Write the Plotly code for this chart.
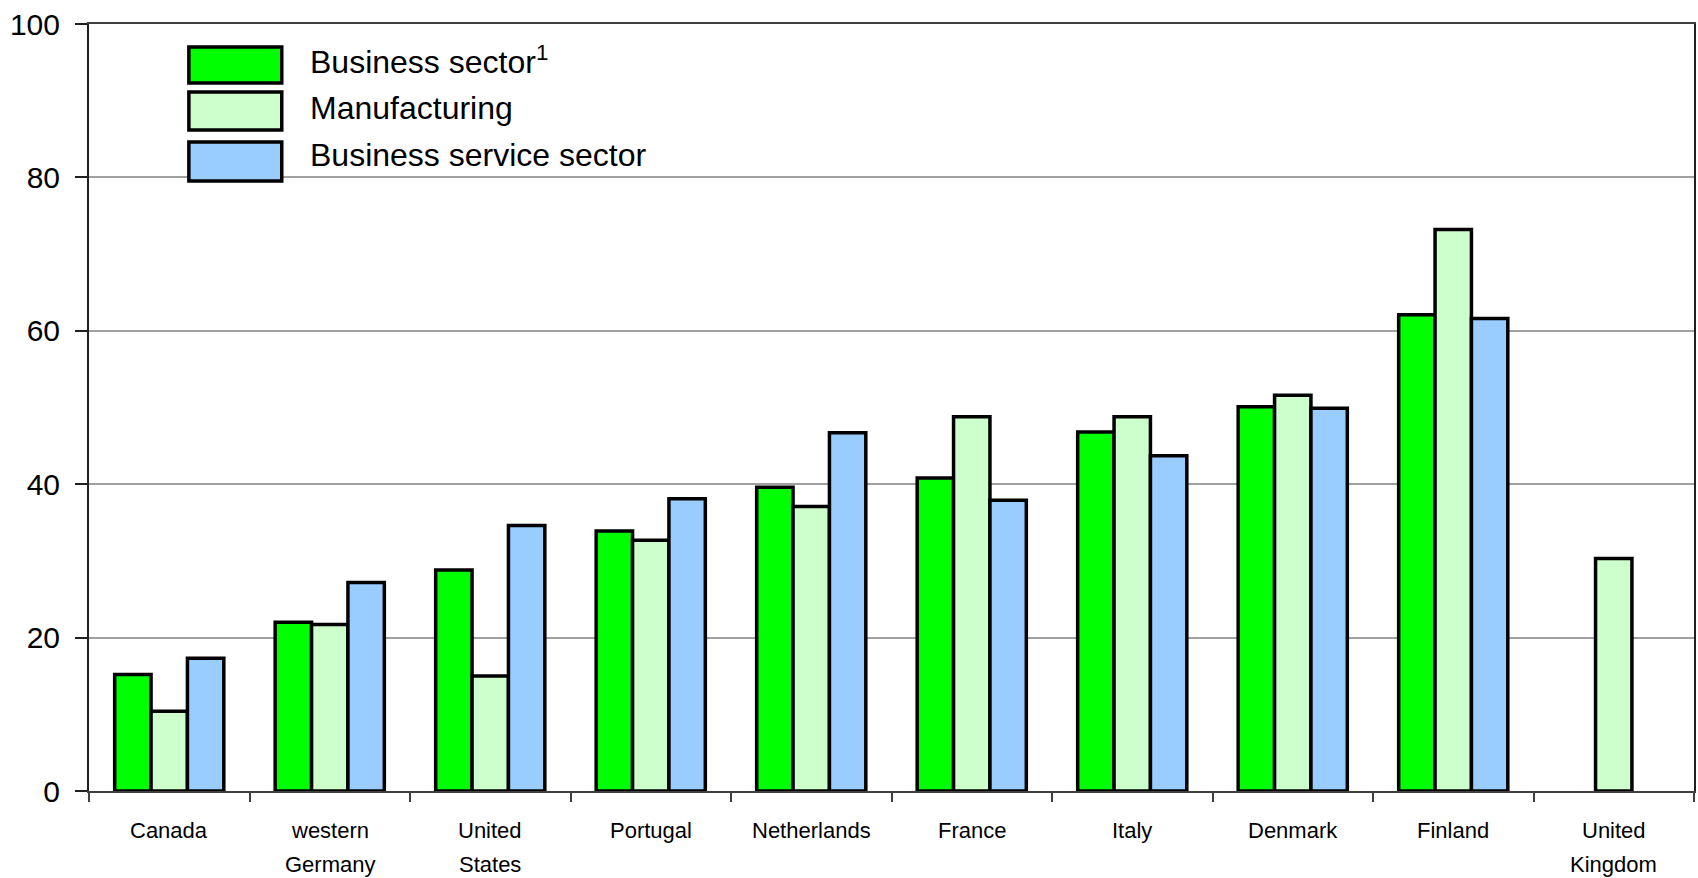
import plotly.graph_objects as go

# Share of firms (%) by country and sector
countries = ["Canada", "western<br>Germany", "United<br>States", "Portugal", "Netherlands",
             "France", "Italy", "Denmark", "Finland", "United<br>Kingdom"]
business_sector = [15.2, 22.0, 28.8, 33.9, 39.6, 40.8, 46.8, 50.1, 62.1, None]
manufacturing = [10.4, 21.7, 15.0, 32.7, 37.1, 48.8, 48.8, 51.6, 73.2, 30.3]
business_services = [17.3, 27.2, 34.6, 38.1, 46.7, 37.9, 43.7, 49.9, 61.6, None]

series_names = ["Business sector<sup>1</sup>", "Manufacturing", "Business service sector"]
series_values = [business_sector, manufacturing, business_services]
series_colors = ["#00ff00", "#ccffcc", "#99ccff"]

y_ticks = [0, 20, 40, 60, 80, 100]

FONT = "Liberation Sans, Arial, sans-serif"
W, H = 1698, 878
L, R, T, B = 89, 2, 24, 87

fig = go.Figure()
for name, vals, col in zip(series_names, series_values, series_colors):
    fig.add_trace(go.Bar(
        x=countries, y=vals, name=name,
        marker=dict(color=col, line=dict(color="#000000", width=3.5)),
        showlegend=False,
    ))

# Pixel -> paper helpers
pw, ph = W - L - R, H - T - B
def px(x):
    return (x - L) / pw
def py(y):
    return (H - B - y) / ph

# Legend drawn as large swatches with labels
swatch_rows = [(47, 83, 60), (92, 130, 108), (142, 181, 155)]
for (y0, y1, yc), name, col in zip(swatch_rows, series_names, series_colors):
    fig.add_shape(type="rect", xref="paper", yref="paper",
                  x0=px(189), x1=px(282), y0=py(y1), y1=py(y0),
                  fillcolor=col, line=dict(color="#000000", width=3.5), layer="above")
    fig.add_annotation(xref="paper", yref="paper", x=px(308), y=py(yc),
                       text=name, showarrow=False, xanchor="left", yanchor="middle",
                       font=dict(family=FONT, size=32, color="#000000"))

# Category labels, one annotation per line for wider line spacing
for c in countries:
    for i, line in enumerate(c.split("<br>")):
        fig.add_annotation(xref="x", yref="paper", x=c, y=py(830 + 34 * i),
                           text=line, showarrow=False, xanchor="center", yanchor="middle",
                           font=dict(family=FONT, size=22, color="#000000"))

fig.update_layout(
    width=W, height=H,
    margin=dict(l=L, r=R, t=T, b=B),
    paper_bgcolor="#ffffff", plot_bgcolor="#ffffff",
    barmode="group", bargap=0.32, bargroupgap=0,
    font=dict(family=FONT, color="#000000"),
)
fig.update_xaxes(
    type="category", showline=True, linecolor="#404040", linewidth=2, mirror=True,
    ticks="outside", tickson="boundaries", ticklen=9, tickcolor="#404040", tickwidth=1.5,
    showticklabels=False, showgrid=False,
)
fig.update_yaxes(
    range=[0, 100], tickvals=y_ticks, showline=True, linecolor="#202020", linewidth=2,
    mirror=True, ticks="outside", ticklen=12, tickcolor="#202020", tickwidth=1.5,
    tickfont=dict(family=FONT, size=30, color="#000000"),
    showgrid=True, gridcolor="#a0a0a0", gridwidth=1.5, zeroline=False,
    ticklabelstandoff=9,
)

fig.write_html("out.html")
